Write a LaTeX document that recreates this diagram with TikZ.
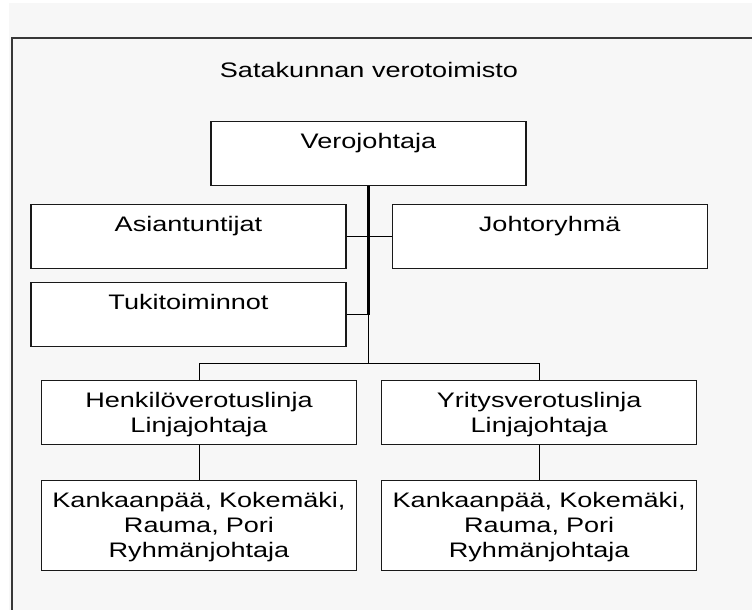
\documentclass[tikz,border=0pt]{standalone}
\usepackage{fontspec}
\setmainfont{Liberation Sans}[FakeStretch=1.29]
\usetikzlibrary{positioning}
\definecolor{pagegray}{HTML}{F7F7F7}
\definecolor{framegray}{HTML}{383838}

\begin{document}
\begin{tikzpicture}[x=1pt, y=-1pt, font=\fontsize{21pt}{25pt}\selectfont,
  unit/.style = {draw=black!90, line width=1.2pt, fill=white, text width=315pt, align=center, inner xsep=0pt, inner ysep=11.5pt, text height=15.3pt, text depth=25.7pt},
  office/.style = {unit, text depth=51.7pt},
  link/.style = {line width=1pt},
  trunk/.style = {line width=2.4pt}]
  \useasboundingbox (0,0) rectangle (752,610);
  \fill[pagegray] (9,3) rectangle (752,610);
  \draw[framegray, line width=2pt] (12,610) -- (12,38) -- (752,38);

  \node (title) at (369,70) {Satakunnan verotoimisto};
  \node[unit, anchor=north] (vero) at (368.5,121) {Verojohtaja};
  \node[unit, anchor=north] (asian) at (188.5,204) {Asiantuntijat};
  \node[unit] (johto) [right=45pt of asian] {Johtoryhmä};
  \node[unit] (tuki) [below=13pt of asian] {Tukitoiminnot};
  \node[unit, anchor=north] (henk) at (199,380) {Henkilöverotuslinja\\Linjajohtaja};
  \node[unit] (yrit) [right=24pt of henk] {Yritysverotuslinja\\Linjajohtaja};
  \node[office] (ryhmaL) [below=35pt of henk] {Kankaanpää, Kokemäki,\\Rauma, Pori\\Ryhmänjohtaja};
  \node[office] (ryhmaR) [below=35pt of yrit] {Kankaanpää, Kokemäki,\\Rauma, Pori\\Ryhmänjohtaja};
  \coordinate[above=17pt of henk.north] (busL);

  \draw[trunk] (vero) -- (vero |- tuki.east);
  \draw[link] (asian) -- (johto);
  \draw[link] (tuki) -- (vero |- tuki.east);
  \draw[link] (vero |- tuki.east) -- (vero |- busL);
  \draw[link] (henk) -- (busL) -- (busL -| yrit.north) -- (yrit);
  \draw[link] (henk) -- (ryhmaL);
  \draw[link] (yrit) -- (ryhmaR);

\end{tikzpicture}
\end{document}
